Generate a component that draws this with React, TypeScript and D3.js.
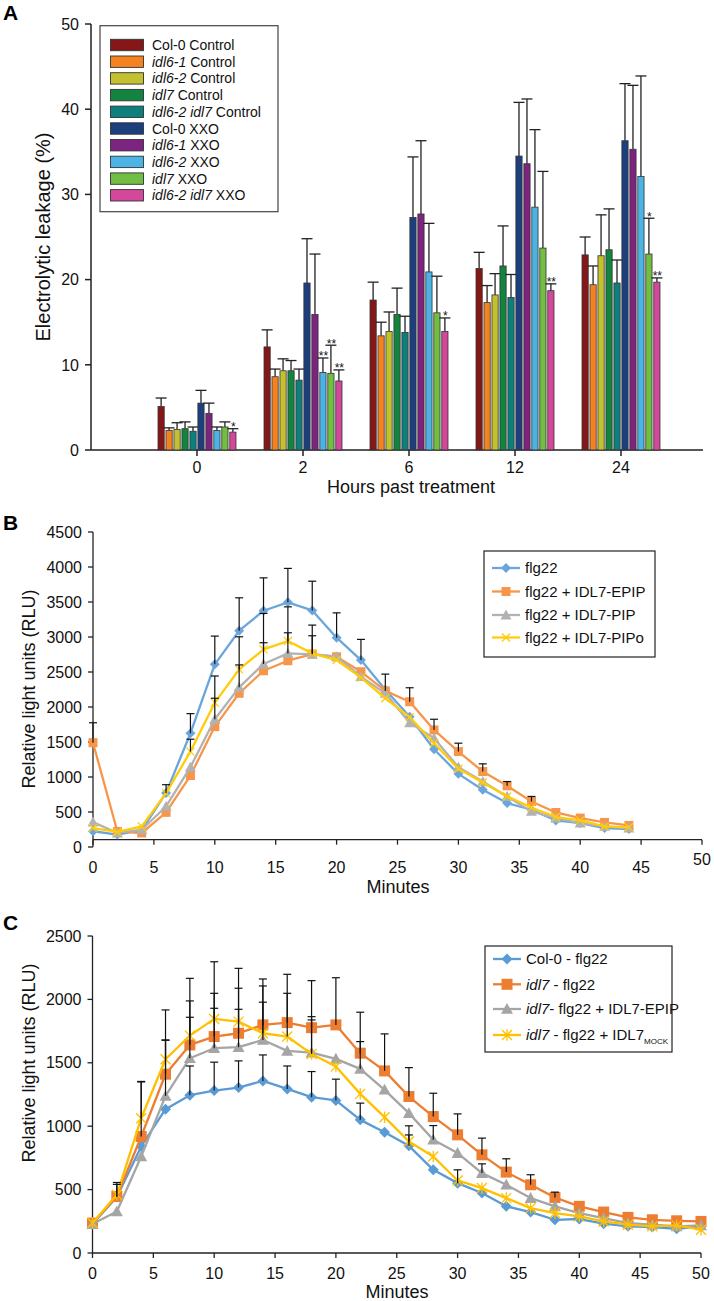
import React from "react";
import * as d3 from "d3";

// ---------------- Panel A data ----------------
const timepointsA = ["0", "2", "6", "12", "24"];
const seriesA = [
  "Col-0 Control", "idl6-1 Control", "idl6-2 Control", "idl7 Control", "idl6-2 idl7 Control",
  "Col-0 XXO", "idl6-1 XXO", "idl6-2 XXO", "idl7 XXO", "idl6-2 idl7 XXO",
];
const italicA = ["", "idl6-1", "idl6-2", "idl7", "idl6-2 idl7", "", "idl6-1", "idl6-2", "idl7", "idl6-2 idl7"];
const colorsA = ["#861719", "#F58220", "#C3C12F", "#13843F", "#0D7F7C", "#1D3F7D", "#7D2480", "#4CB3E5", "#72BE44", "#D3489A"];
const colCtrl = [5.1, 12.1, 17.6, 21.3, 22.9];
const idl61Ctrl = [2.3, 8.6, 13.4, 17.3, 19.4];
const idl62Ctrl = [2.4, 9.3, 13.9, 18.2, 22.8];
const idl7Ctrl = [2.5, 9.3, 15.9, 21.6, 23.5];
const dblCtrl = [2.2, 8.2, 13.8, 17.9, 19.6];
const colXXO = [5.5, 19.6, 27.3, 34.5, 36.3];
const idl61XXO = [4.3, 15.9, 27.7, 33.6, 35.3];
const idl62XXO = [2.3, 9.1, 20.9, 28.5, 32.1];
const idl7XXO = [2.7, 9.0, 16.1, 23.7, 23.0];
const dblXXO = [2.1, 8.1, 13.9, 18.7, 19.7];
const colCtrlErr = [1.0, 2.0, 2.1, 1.9, 2.1];
const idl61CtrlErr = [0.3, 0.9, 1.6, 2.0, 2.2];
const idl62CtrlErr = [0.8, 1.4, 2.3, 2.5, 4.8];
const idl7CtrlErr = [0.8, 1.2, 3.1, 4.7, 4.8];
const dblCtrlErr = [0.5, 1.3, 1.9, 2.7, 2.7];
const colXXOErr = [1.5, 5.2, 7.1, 6.3, 6.7];
const idl61XXOErr = [1.2, 7.1, 8.6, 7.6, 7.5];
const idl62XXOErr = [0.4, 1.7, 5.7, 9.1, 11.8];
const idl7XXOErr = [0.6, 3.3, 4.3, 9.0, 4.2];
const dblXXOErr = [0.4, 1.3, 1.6, 0.8, 0.5];
const sigIdl62XXO = ["", "**", "", "", ""];
const sigIdl7XXO = ["", "**", "", "", "*"];
const sigDblXXO = ["*", "**", "*", "**", "**"];
const noSig = ["", "", "", "", ""];
const valuesA = [colCtrl, idl61Ctrl, idl62Ctrl, idl7Ctrl, dblCtrl, colXXO, idl61XXO, idl62XXO, idl7XXO, dblXXO];
const errorsA = [colCtrlErr, idl61CtrlErr, idl62CtrlErr, idl7CtrlErr, dblCtrlErr, colXXOErr, idl61XXOErr, idl62XXOErr, idl7XXOErr, dblXXOErr];
const sigA = [noSig, noSig, noSig, noSig, noSig, noSig, noSig, sigIdl62XXO, sigIdl7XXO, sigDblXXO];
const ticksA = [0, 10, 20, 30, 40, 50];

// ---------------- Panel B data ----------------
const minutesB = [0, 2, 4, 6, 8, 10, 12, 14, 16, 18, 20, 22, 24, 26, 28, 30, 32, 34, 36, 38, 40, 42, 44];
const flg22 = [225, 178, 240, 772, 1625, 2610, 3090, 3375, 3495, 3380, 2990, 2670, 2245, 1860, 1397, 1045, 817, 627, 532, 380, 342, 271, 257];
const flg22EPIP = [1490, 222, 200, 495, 1021, 1720, 2196, 2518, 2661, 2756, 2718, 2504, 2230, 2075, 1672, 1363, 1078, 874, 650, 493, 413, 351, 308];
const flg22PIP = [356, 200, 247, 579, 1141, 1825, 2281, 2614, 2766, 2752, 2718, 2433, 2195, 1775, 1555, 1140, 935, 722, 508, 413, 342, 294, 271];
const flg22PIPo = [271, 215, 294, 770, 1363, 2062, 2538, 2823, 2942, 2766, 2671, 2420, 2125, 1855, 1483, 1117, 921, 722, 565, 428, 380, 294, 280];
const flg22Err = [0, 0, 0, 118, 280, 403, 470, 470, 485, 417, 355, 296, 0, 0, 0, 0, 0, 0, 0, 0, 0, 0, 0];
const flg22EPIPErr = [285, 0, 0, 0, 0, 0, 0, 0, 0, 0, 0, 0, 240, 200, 153, 120, 110, 61, 72, 0, 0, 0, 0];
const flg22PIPErr = [0, 0, 0, 0, 0, 300, 320, 304, 294, 266, 0, 0, 0, 0, 0, 0, 0, 0, 0, 0, 0, 0, 0];
const flg22PIPoErr = [0, 0, 0, 0, 177, 381, 465, 514, 489, 404, 0, 0, 0, 0, 0, 0, 0, 0, 0, 0, 0, 0, 0];
const ticksBY = [0, 500, 1000, 1500, 2000, 2500, 3000, 3500, 4000, 4500];
const ticksX = [0, 5, 10, 15, 20, 25, 30, 35, 40, 45, 50];

// ---------------- Panel C data ----------------
const minutesC = [0, 2, 4, 6, 8, 10, 12, 14, 16, 18, 20, 22, 24, 26, 28, 30, 32, 34, 36, 38, 40, 42, 44, 46, 48, 50];
const col0flg22 = [228, 441, 840, 1134, 1245, 1281, 1305, 1357, 1294, 1229, 1203, 1050, 953, 845, 656, 551, 473, 368, 323, 262, 268, 231, 210, 205, 191, 210];
const idl7flg22 = [236, 446, 919, 1410, 1641, 1707, 1733, 1799, 1817, 1777, 1799, 1576, 1436, 1234, 1076, 932, 774, 638, 538, 438, 368, 323, 281, 262, 254, 249];
const idl7EPIP = [228, 328, 761, 1239, 1536, 1615, 1623, 1680, 1594, 1580, 1531, 1452, 1287, 1103, 893, 788, 630, 538, 433, 368, 315, 276, 236, 223, 210, 218];
const idl7Mock = [236, 459, 1063, 1528, 1714, 1846, 1825, 1733, 1707, 1570, 1470, 1255, 1071, 879, 761, 572, 512, 433, 354, 315, 289, 249, 223, 210, 218, 184];
const col0flg22Err = [0, 100, 0, 0, 230, 224, 210, 205, 181, 202, 168, 132, 0, 158, 0, 105, 0, 0, 0, 0, 0, 0, 0, 0, 0, 0];
const idl7flg22Err = [0, 110, 430, 507, 525, 590, 512, 362, 381, 371, 372, 323, 292, 228, 184, 165, 132, 105, 79, 42, 0, 0, 0, 0, 0, 0];
const idl7EPIPErr = [0, 0, 0, 441, 323, 315, 299, 298, 0, 284, 0, 215, 0, 0, 112, 0, 73, 0, 0, 0, 0, 0, 0, 0, 0, 0];
const idl7MockErr = [0, 0, 290, 150, 274, 202, 263, 373, 341, 268, 0, 0, 0, 52, 0, 0, 0, 0, 0, 0, 0, 0, 0, 0, 0, 0];
const ticksCY = [0, 500, 1000, 1500, 2000, 2500];

const FONT = "'Liberation Sans', Arial, Helvetica, sans-serif";

function markerPath(kind: string, s: number): string {
  const h = s / 2;
  if (kind === "diamond") return `M0,${-h}L${h},0L0,${h}L${-h},0Z`;
  if (kind === "square") return `M${-h},${-h}h${s}v${s}h${-s}Z`;
  if (kind === "triangle") return `M0,${-h}L${h},${h * 0.8}L${-h},${h * 0.8}Z`;
  if (kind === "x") return `M${-h},${-h}L${h},${h}M${-h},${h}L${h},${-h}`;
  return `M${-h},${-h}L${h},${h}M${-h},${h}L${h},${-h}M0,${-h * 1.15}L0,${h * 1.15}`;
}

type Series = { name: string; xs: number[]; ys: number[]; err: number[]; color: string; marker: string; size: number };

function LinePanel(props: {
  series: Series[];
  x: d3.ScaleLinear<number, number>;
  y: d3.ScaleLinear<number, number>;
  yTicks: number[];
  xTicks: number[];
  xAxisY: number;
  raisedLast?: boolean;
}) {
  const { series, x, y, yTicks, xTicks, xAxisY, raisedLast } = props;
  const line = d3.line<number>();
  const x0 = x.range()[0];
  const yMin = y(y.domain()[0]);
  const yMax = y(y.domain()[1]);
  return (
    <g>
      <line x1={x0} x2={x0} y1={yMax} y2={yMin} stroke="#222" strokeWidth={1.3} />
      {yTicks.map((t) => (
        <g key={"yt" + t}>
          <line x1={x0 - 5} x2={x0} y1={y(t)} y2={y(t)} stroke="#222" strokeWidth={1.3} />
          <text x={x0 - 11} y={y(t) + 5.5} textAnchor="end" fontSize={16} fontFamily={FONT} fill="#111">{t}</text>
        </g>
      ))}
      <line x1={x0} x2={x.range()[1]} y1={xAxisY} y2={xAxisY} stroke="#222" strokeWidth={1.3} />
      {xTicks.map((t, i) => (
        <g key={"xt" + t}>
          <line x1={x(t)} x2={x(t)} y1={xAxisY} y2={xAxisY + 5} stroke="#222" strokeWidth={1.3} />
          <text x={x(t)} y={yMin + 26 - (raisedLast && i === xTicks.length - 1 ? 8 : 0)} textAnchor="middle" fontSize={16} fontFamily={FONT} fill="#111">{t}</text>
        </g>
      ))}
      {series.map((s) => {
        const pts = s.xs.map((m, i) => [x(m), y(s.ys[i])] as [number, number]);
        const open = s.marker === "x" || s.marker === "star";
        return (
          <g key={s.name}>
            <path d={line(pts) || ""} fill="none" stroke={s.color} strokeWidth={2.3} strokeLinejoin="round" />
            {pts.map((p, i) => (
              <path key={i} d={markerPath(s.marker, s.size)} transform={`translate(${p[0]},${p[1]})`}
                fill={open ? "none" : s.color} stroke={s.color} strokeWidth={open ? 1.3 : 0} />
            ))}
          </g>
        );
      })}
      {series.map((s) => (
        <g key={"e" + s.name}>
          {s.xs.map((m, i) =>
            s.err[i] > 0 ? (
              <g key={i}>
                <line x1={x(m)} x2={x(m)} y1={y(s.ys[i])} y2={y(s.ys[i] + s.err[i])} stroke="#111" strokeWidth={1.2} />
                <line x1={x(m) - 4} x2={x(m) + 4} y1={y(s.ys[i] + s.err[i])} y2={y(s.ys[i] + s.err[i])} stroke="#111" strokeWidth={1.2} />
              </g>
            ) : null
          )}
        </g>
      ))}
    </g>
  );
}

function LegendLines(props: { x: number; y: number; w: number; h: number; rowY: number[]; series: Series[]; labels: React.ReactNode[]; fontSize: number }) {
  const { x, y, w, h, rowY, series, labels, fontSize } = props;
  return (
    <g>
      <rect x={x} y={y} width={w} height={h} fill="#fff" stroke="#222" strokeWidth={1.2} />
      {series.map((s, i) => {
        const open = s.marker === "x" || s.marker === "star";
        return (
          <g key={s.name}>
            <line x1={x + 8} x2={x + 36} y1={rowY[i]} y2={rowY[i]} stroke={s.color} strokeWidth={2.3} />
            <path d={markerPath(s.marker, s.size)} transform={`translate(${x + 22},${rowY[i]})`}
              fill={open ? "none" : s.color} stroke={s.color} strokeWidth={open ? 1.3 : 0} />
            <text x={x + 41} y={rowY[i] + fontSize * 0.36} fontSize={fontSize} fontFamily={FONT} fill="#111">{labels[i]}</text>
          </g>
        );
      })}
    </g>
  );
}

export default function App() {
  const yA = d3.scaleLinear().domain([0, 50]).range([450, 24]);
  const xA = d3.scaleBand<string>().domain(timepointsA).range([144, 674]);
  const xInner = d3.scaleBand<string>().domain(seriesA).range([-39, 39]).paddingInner(0.22);
  const bw = xInner.bandwidth();

  const xB = d3.scaleLinear().domain([0, 50]).range([93, 702]);
  const yB = d3.scaleLinear().domain([0, 4500]).range([847, 532]);
  const seriesB: Series[] = [
    { name: "flg22", xs: minutesB, ys: flg22, err: flg22Err, color: "#6AA6DD", marker: "diamond", size: 10 },
    { name: "flg22 + IDL7-EPIP", xs: minutesB, ys: flg22EPIP, err: flg22EPIPErr, color: "#F7964A", marker: "square", size: 9 },
    { name: "flg22 + IDL7-PIP", xs: minutesB, ys: flg22PIP, err: flg22PIPErr, color: "#B2B2B2", marker: "triangle", size: 11 },
    { name: "flg22 + IDL7-PIPo", xs: minutesB, ys: flg22PIPo, err: flg22PIPoErr, color: "#FFCC0A", marker: "x", size: 8 },
  ];
  const labelsB = ["flg22", "flg22 + IDL7-EPIP", "flg22 + IDL7-PIP", "flg22 + IDL7-PIPo"];

  const xC = d3.scaleLinear().domain([0, 50]).range([92.5, 701]);
  const yC = d3.scaleLinear().domain([0, 2500]).range([1253, 936]);
  const seriesC: Series[] = [
    { name: "Col-0 - flg22", xs: minutesC, ys: col0flg22, err: col0flg22Err, color: "#5B9BD5", marker: "diamond", size: 11 },
    { name: "idl7 - flg22", xs: minutesC, ys: idl7flg22, err: idl7flg22Err, color: "#ED7D31", marker: "square", size: 11 },
    { name: "idl7- flg22 + IDL7-EPIP", xs: minutesC, ys: idl7EPIP, err: idl7EPIPErr, color: "#A5A5A5", marker: "triangle", size: 12 },
    { name: "idl7 - flg22 + IDL7MOCK", xs: minutesC, ys: idl7Mock, err: idl7MockErr, color: "#FFC000", marker: "star", size: 10 },
  ];
  const labelsC: React.ReactNode[] = [
    <tspan>Col-0 - flg22</tspan>,
    <tspan><tspan fontStyle="italic">idl7</tspan> - flg22</tspan>,
    <tspan><tspan fontStyle="italic">idl7</tspan>- flg22 + IDL7-EPIP</tspan>,
    <tspan><tspan fontStyle="italic">idl7</tspan> - flg22 + IDL7<tspan fontSize={8} dy={4}>MOCK</tspan></tspan>,
  ];

  return (
    <svg width={714} height={1301} style={{ position: "absolute", left: 0, top: 0, display: "block", background: "#fff" }}>
      {/* ================= Panel A ================= */}
      <text x={3} y={20} fontSize={21} fontWeight="bold" fontFamily={FONT}>A</text>
      <line x1={91} x2={91} y1={yA(50)} y2={yA(0)} stroke="#231F20" strokeWidth={1.5} />
      {ticksA.map((t) => (
        <g key={t}>
          <line x1={85} x2={91} y1={yA(t)} y2={yA(t)} stroke="#231F20" strokeWidth={1.5} />
          <text x={79} y={yA(t) + 5.8} textAnchor="end" fontSize={16} fontFamily={FONT} fill="#111">{t}</text>
        </g>
      ))}
      <line x1={91} x2={703} y1={yA(0)} y2={yA(0)} stroke="#231F20" strokeWidth={1.5} />
      {timepointsA.map((t) => {
        const cx = (xA(t) as number) + xA.bandwidth() / 2;
        return (
          <g key={t}>
            <line x1={cx} x2={cx} y1={yA(0)} y2={yA(0) + 6} stroke="#231F20" strokeWidth={1.5} />
            <text x={cx} y={473} textAnchor="middle" fontSize={16} fontFamily={FONT} fill="#111">{t}</text>
          </g>
        );
      })}
      {timepointsA.map((t, ti) => {
        const gx = (xA(t) as number) + xA.bandwidth() / 2;
        return (
          <g key={"bars" + t}>
            {seriesA.map((s, si) => {
              const v = valuesA[si][ti];
              const e = errorsA[si][ti];
              const bx = gx + (xInner(s) as number);
              const cx = bx + bw / 2;
              return (
                <g key={s}>
                  <line x1={cx} x2={cx} y1={yA(v)} y2={yA(v + e)} stroke="#222" strokeWidth={1.3} />
                  <line x1={cx - 5.5} x2={cx + 5.5} y1={yA(v + e)} y2={yA(v + e)} stroke="#222" strokeWidth={1.3} />
                  <rect x={bx} y={yA(v)} width={bw} height={yA(0) - yA(v)} fill={colorsA[si]} stroke="#333" strokeWidth={0.8} />
                  {sigA[si][ti] ? (
                    <text x={cx + 0.5} y={yA(v + e) + 2.5} textAnchor="middle" fontSize={12} fontFamily={FONT} fill="#111">{sigA[si][ti]}</text>
                  ) : null}
                </g>
              );
            })}
          </g>
        );
      })}
      <rect x={100} y={25.7} width={178} height={186} fill="#fff" stroke="#444" strokeWidth={1.2} />
      {seriesA.map((s, i) => {
        const cy = 45 + i * 16.7;
        const it = italicA[i];
        const rest = s.slice(it.length);
        return (
          <g key={"lg" + s}>
            <rect x={110.5} y={cy - 5.7} width={33} height={11.4} fill={colorsA[i]} stroke="#333" strokeWidth={0.9} />
            <text x={152} y={cy + 5} fontSize={14} fontFamily={FONT} fill="#111">
              {it ? <tspan fontStyle="italic">{it}</tspan> : null}
              <tspan>{rest}</tspan>
            </text>
          </g>
        );
      })}
      <text transform="translate(50,237) rotate(-90)" textAnchor="middle" fontSize={20} fontFamily={FONT} fill="#111">Electrolytic leakage (%)</text>
      <text x={411} y={493} textAnchor="middle" fontSize={18} fontFamily={FONT} fill="#111">Hours past treatment</text>

      {/* ================= Panel B ================= */}
      <text x={3} y={530} fontSize={21} fontWeight="bold" fontFamily={FONT}>B</text>
      <LinePanel series={seriesB} x={xB} y={yB} yTicks={ticksBY} xTicks={ticksX} xAxisY={yB(105)} raisedLast={true} />
      <LegendLines x={484} y={551} w={171} h={106} rowY={[568, 591.5, 615, 637.5]} series={seriesB} labels={labelsB} fontSize={15} />
      <text transform="translate(35,689) rotate(-90)" textAnchor="middle" fontSize={18} fontFamily={FONT} fill="#111">Relative light units (RLU)</text>
      <text x={398} y={893} textAnchor="middle" fontSize={18} fontFamily={FONT} fill="#111">Minutes</text>

      {/* ================= Panel C ================= */}
      <text x={3} y={930} fontSize={21} fontWeight="bold" fontFamily={FONT}>C</text>
      <LinePanel series={seriesC} x={xC} y={yC} yTicks={ticksCY} xTicks={ticksX} xAxisY={yC(0)} />
      <LegendLines x={485} y={946} w={187} h={106} rowY={[959, 984.3, 1009, 1035]} series={seriesC} labels={labelsC} fontSize={15} />
      <text transform="translate(35,1063) rotate(-90)" textAnchor="middle" fontSize={18} fontFamily={FONT} fill="#111">Relative light units (RLU)</text>
      <text x={397} y={1298} textAnchor="middle" fontSize={18} fontFamily={FONT} fill="#111">Minutes</text>
    </svg>
  );
}
